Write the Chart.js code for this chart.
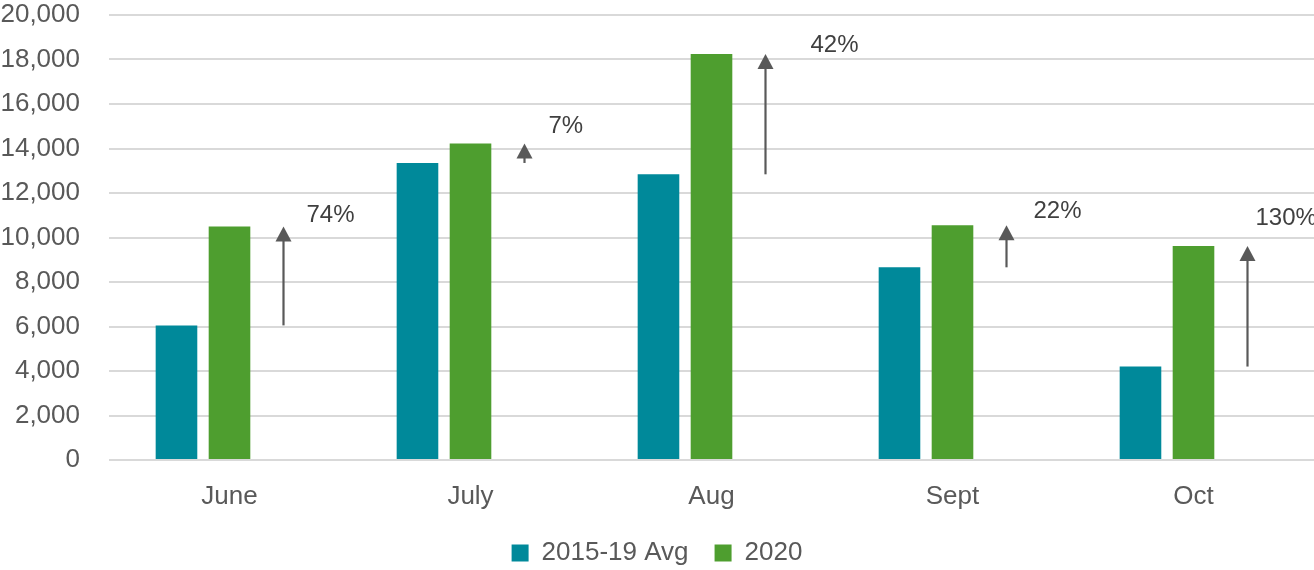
<!DOCTYPE html>
<html>
<head>
<meta charset="utf-8">
<script src="https://cdn.jsdelivr.net/npm/chart.js@4.4.1/dist/chart.umd.min.js"></script>
<style>
  html, body { margin: 0; padding: 0; background: #ffffff; }
  #wrap { width: 1314px; height: 570px; position: relative; }
</style>
</head>
<body>
<div id="wrap"><canvas id="chart"></canvas></div>
<script>
// ─── Data ─────────────────────────────────────────────────────────────────
const months = ['June', 'July', 'Aug', 'Sept', 'Oct'];
const avg1519 = [6050, 13350, 12840, 8660, 4200];
const y2020 = [10500, 14230, 18250, 10550, 9620];
const pctLabels = ['74%', '7%', '42%', '22%', '130%'];
const yTicks = [0, 2000, 4000, 6000, 8000, 10000, 12000, 14000, 16000, 18000, 20000];

// ─── Styles ───────────────────────────────────────────────────────────────
const FONT = '"Liberation Sans", Arial, sans-serif';
const TEAL = '#00899a';
const GREEN = '#4e9e2f';
const GREY = '#595959';

// label placement relative to arrow x and arrow tip (px)
const labelDx = [23, 24, 45, 27, 8];
const labelDy = [-11, -17, -9, -14, -28];

// draws the up arrows (avg -> 2020) in the third, empty bar slot
const arrowPlugin = {
  id: 'arrows',
  afterDatasetsDraw(chart) {
    const ctx = chart.ctx;
    const yScale = chart.scales.y;
    const meta = chart.getDatasetMeta(2);
    ctx.save();
    meta.data.forEach(function (bar, i) {
      const x = Math.round(bar.x) + 0.5;
      const yBase = yScale.getPixelForValue(avg1519[i]);
      const yTip = yScale.getPixelForValue(y2020[i]);
      const headH = 15, headW = 16;
      ctx.strokeStyle = GREY;
      ctx.fillStyle = GREY;
      ctx.lineWidth = 2.2;
      if (yBase - yTip > headH) {
        ctx.beginPath();
        ctx.moveTo(x, yBase);
        ctx.lineTo(x, yTip + headH - 1);
        ctx.stroke();
      }
      ctx.beginPath();
      ctx.moveTo(x, yTip);
      ctx.lineTo(x - headW / 2, yTip + headH);
      ctx.lineTo(x + headW / 2, yTip + headH);
      ctx.closePath();
      ctx.fill();

      ctx.fillStyle = '#404040';
      ctx.font = '24px ' + FONT;
      ctx.textAlign = 'left';
      ctx.textBaseline = 'middle';
      ctx.fillText(pctLabels[i], x + labelDx[i], yTip + labelDy[i]);
    });
    ctx.restore();
  }
};

new Chart(document.getElementById('chart'), {
  type: 'bar',
  data: {
    labels: months,
    datasets: [
      {
        label: '2015-19 Avg',
        data: avg1519,
        backgroundColor: TEAL,
        categoryPercentage: 0.66,
        barPercentage: 0.785,
      },
      {
        label: '2020',
        data: y2020,
        backgroundColor: GREEN,
        categoryPercentage: 0.66,
        barPercentage: 0.785,
      },
      {
        // invisible slot that holds the change arrows
        label: 'change',
        data: months.map(function (m, i) { return [avg1519[i], y2020[i]]; }),
        backgroundColor: 'rgba(0,0,0,0)',
        categoryPercentage: 0.66,
        barPercentage: 0.785,
      },
    ],
  },
  options: {
    responsive: true,
    maintainAspectRatio: false,
    animation: false,
    layout: { padding: { top: 15, right: 0, bottom: -6, left: 0 } },
    plugins: {
      tooltip: { enabled: false },
      legend: {
        position: 'bottom',
        labels: {
          color: GREY,
          font: { family: FONT, size: 26 },
          boxWidth: 17,
          boxHeight: 17,
          padding: 26,
          filter: function (item) { return item.datasetIndex < 2; },
        },
      },
    },
    scales: {
      x: {
        grid: { display: false, drawTicks: false },
        border: { display: false },
        ticks: {
          color: GREY,
          font: { family: FONT, size: 26 },
          padding: 21,
        },
        afterFit: function (scale) { scale.height = 54; },
      },
      y: {
        min: 0,
        max: 20000,
        afterBuildTicks: function (scale) {
          scale.ticks = yTicks.map(function (v) { return { value: v }; });
        },
        grid: { color: '#d9d9d9', lineWidth: 2, drawTicks: false },
        border: { display: false },
        ticks: {
          color: GREY,
          font: { family: FONT, size: 26 },
          padding: 29,
          callback: function (v) { return v.toLocaleString('en-US'); },
        },
        afterFit: function (scale) {
          scale.width = 109;
          scale.paddingTop = 0;
          scale.paddingBottom = 0;
        },
      },
    },
  },
  plugins: [arrowPlugin],
});
</script>
</body>
</html>
